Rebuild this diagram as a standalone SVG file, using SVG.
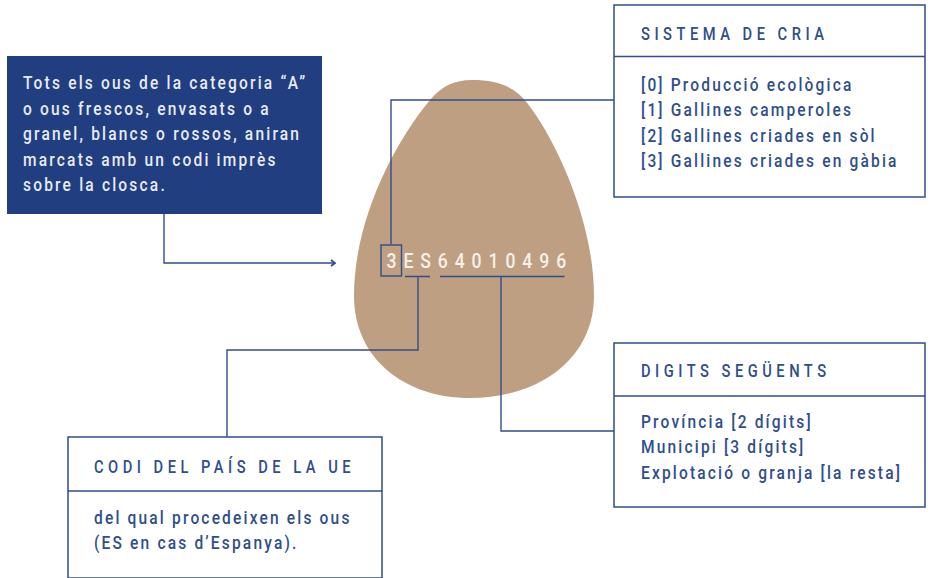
<svg xmlns="http://www.w3.org/2000/svg" width="948" height="578" viewBox="0 0 948 578">
<defs>
<style>
text{font-family:Roboto,"Liberation Sans",sans-serif;font-weight:500;transform-box:fill-box;transform-origin:0 50%;transform:scaleX(.84)}
.box{fill:#fff;stroke:#2f4e8c;stroke-width:1.5}
.rule{fill:none;stroke:#2f4e8c;stroke-width:1.5}
.wire{fill:none;stroke:#2f4e8c;stroke-width:1.4}
.head{font-size:17.500px;letter-spacing:5.350px;fill:#2f4e8c}
.body{font-size:18.500px;letter-spacing:2.580px;fill:#2f4e8c}
.note{font-size:18.500px;letter-spacing:2.600px;fill:#e8ebf3}
.code{font-size:21px;letter-spacing:8.200px;fill:#f5f1ea}
</style>
<marker id="arrow" viewBox="0 0 6 8" refX="5" refY="4" markerWidth="6" markerHeight="8" markerUnits="userSpaceOnUse" orient="auto">
<path d="M1 1L5 4L1 7" fill="none" stroke="#2f4e8c" stroke-width="1.8"/>
</marker>
</defs>
<rect width="948" height="578" fill="#fff"/>

<g id="egg">
<path d="M472 80C500 80 516 88 528 104C557 142 594 222 594 296C594 358 540 398 470 398C404 398 354 358 354 296C354 222 392 146 430 100C442 86 454 80 472 80Z" fill="#bf9f82"/>
<text class="code" x="386.500" y="268">3ES64010496</text>
</g>

<g id="connectors">
<path class="wire" d="M164 214V263H335" marker-end="url(#arrow)"/>
<path class="wire" d="M614 100H391V244"/>
<rect class="wire" x="381" y="245" width="20.500" height="31"/>
<path class="wire" d="M405 276.500H430M418 276.500V350H227V437"/>
<path class="wire" d="M440 276.500H564.500M501 276.500V431H614"/>
</g>

<g id="note-categoria">
<rect x="7" y="56" width="315" height="158" fill="#203e80"/>
<text class="note" x="23" y="89">Tots els ous de la categoria “A”</text>
<text class="note" x="23" y="115">o ous frescos, envasats o a</text>
<text class="note" x="23" y="140">granel, blancs o rossos, aniran</text>
<text class="note" x="23" y="166">marcats amb un codi imprès</text>
<text class="note" x="23" y="191">sobre la closca.</text>
</g>

<g id="box-sistema">
<rect class="box" x="614" y="5" width="311" height="192"/>
<path class="rule" d="M614 56.500H925"/>
<text class="head" x="641" y="40">SISTEMA DE CRIA</text>
<text class="body" x="641" y="91">[0] Producció ecològica</text>
<text class="body" x="641" y="116">[1] Gallines camperoles</text>
<text class="body" x="641" y="142">[2] Gallines criades en sòl</text>
<text class="body" x="641" y="167">[3] Gallines criades en gàbia</text>
</g>

<g id="box-digits">
<rect class="box" x="614" y="343" width="311" height="164"/>
<path class="rule" d="M614 396H925"/>
<text class="head" x="641" y="377">DIGITS SEGÜENTS</text>
<text class="body" x="641" y="428">Província [2 dígits]</text>
<text class="body" x="641" y="453">Municipi [3 dígits]</text>
<text class="body" x="641" y="479">Explotació o granja [la resta]</text>
</g>

<g id="box-pais">
<rect class="box" x="68" y="437" width="314" height="141"/>
<path class="rule" d="M68 491H382"/>
<text class="head" x="94" y="473">CODI DEL PAÍS DE LA UE</text>
<text class="body" x="94" y="524">del qual procedeixen els ous</text>
<text class="body" x="94" y="549">(ES en cas d’Espanya).</text>
</g>
</svg>
